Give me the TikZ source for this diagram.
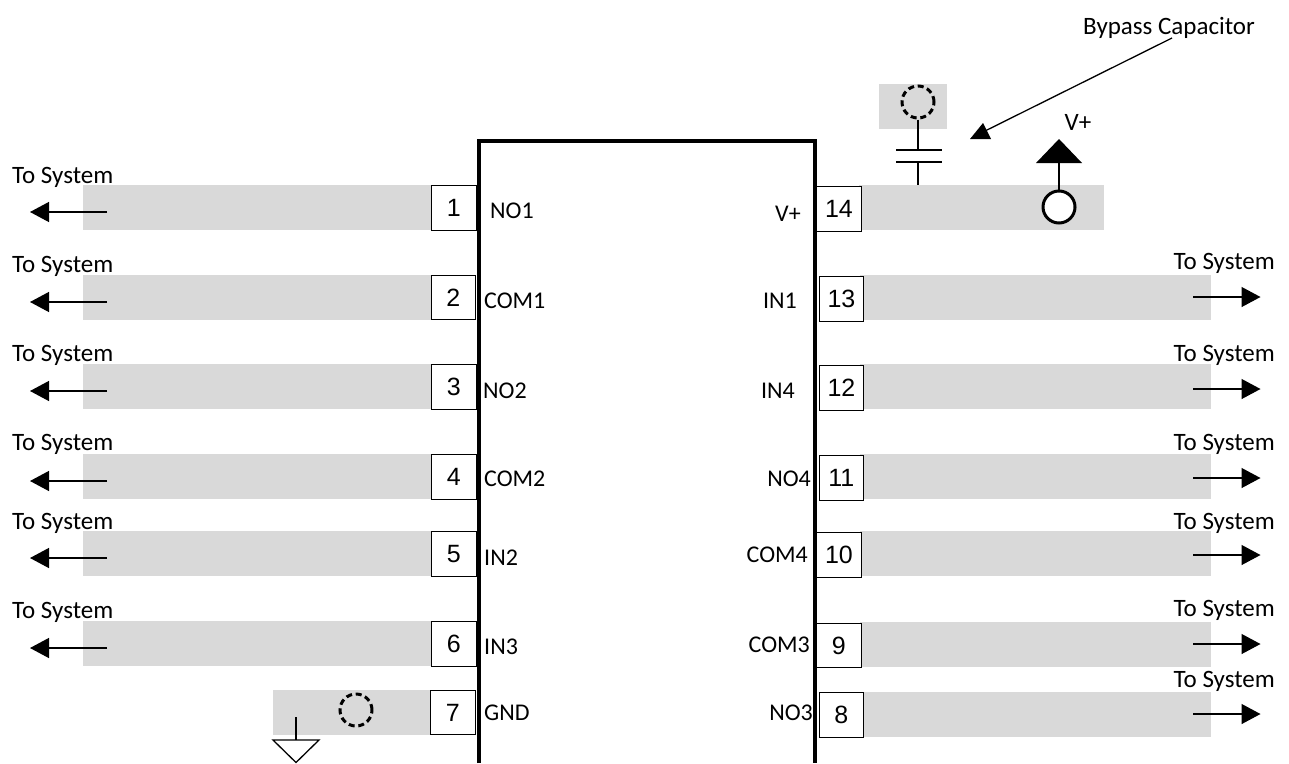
\documentclass[tikz,border=0pt]{standalone}
\usepackage{fontspec}
\setmainfont{Carlito}
\newfontfamily\padfont{Liberation Sans}
\usetikzlibrary{arrows.meta}
\definecolor{bargray}{HTML}{D9D9D9}

\tikzset{
    padbox/.style={draw=black, line width=1.3pt, fill=white, minimum width=44.5pt, minimum height=44.5pt,
        inner sep=0pt, anchor=north west, font=\padfont\fontsize{25}{25}\selectfont},
    pinlabel/.style={inner sep=0pt, font=\fontsize{24}{24}\selectfont},
    syslabel/.style={inner sep=0pt, font=\fontsize{25}{25}\selectfont},
    sysarrow/.style={line width=1.3pt, -{Triangle[length=19pt,width=20pt]}},
    thinwire/.style={line width=1.3pt},
    dashring/.style={circle, draw=black, line width=3pt, dash pattern=on 6pt off 3.7pt, minimum size=32pt, inner sep=0pt},
    solidring/.style={circle, draw=black, line width=3pt, fill=white, minimum size=32pt, inner sep=0pt},
}

\begin{document}
\begin{tikzpicture}[x=1pt, y=-1pt]
\useasboundingbox (0,0) rectangle (1289,763);

% --- LEFT SIDE BARS ---
\foreach \ytop in {185,275,364,454,531,621} {
    \fill[bargray] (83,\ytop) rectangle (432,\ytop+45);
}
\fill[bargray] (273,690) rectangle (431,735);

% --- RIGHT SIDE BARS ---
\fill[bargray] (859,185) rectangle (1104,230);
\foreach \ytop in {275,364,454,531,622,692} {
    \fill[bargray] (860,\ytop) rectangle (1211,\ytop+45);
}
\fill[bargray] (879,84) rectangle (947,129);

% --- PACKAGE OUTLINE ---
\draw[line width=3.5pt] (479,763) -- (479,141) -- (815,141) -- (815,763);

% --- LEFT PINS ---
% number / x / top of pad / label / label x / label y
\foreach \n/\px/\ytop/\pin/\lx/\ly in {
    1/431/185/NO1/490/211,
    2/430.5/274.5/COM1/484/301,
    3/431/364/NO2/483/391,
    4/431/454/COM2/484/479,
    5/431/531/IN2/484/558,
    6/431/621/IN3/484/647,
    7/430/689.5/GND/484/713} {
    \node[padbox] (pad\n) at (\px,\ytop) {\n};
    \node[pinlabel, anchor=west] (pin\n) at (\lx,\ly) {\pin};
}

% --- RIGHT PINS ---
\foreach \n/\px/\ytop/\pin/\lx/\ly in {
    14/816/186/V+/801/214,
    13/818.5/276/IN1/797/301,
    12/818.5/365/IN4/795/391,
    11/818.5/455/NO4/811/479,
    10/816/532/COM4/808/555,
    9/816/622.5/COM3/810/645,
    8/818.5/692/NO3/813/713} {
    \node[padbox] (pad\n) at (\px,\ytop) {\n};
    \node[pinlabel, anchor=east] (pin\n) at (\lx,\ly) {\pin};
}

% --- SIGNALS TO SYSTEM ---
\foreach \n/\ly/\ay in {1/177/212, 2/266/302, 3/355/391, 4/444/481, 5/523/558, 6/612/648} {
    \node[syslabel, anchor=west] (sys\n) at (12,\ly) {To System};
    \coordinate (from\n) at (107,\ay);
    \coordinate (to\n) at (30,\ay);
    \draw[sysarrow] (from\n) -- (to\n);
}
\foreach \n/\ly/\ay in {13/263/297, 12/355/389, 11/444/478, 10/523/555, 9/610/644, 8/681/714} {
    \node[syslabel, anchor=east] (sys\n) at (1275,\ly) {To System};
    \coordinate (from\n) at (1193,\ay);
    \coordinate (to\n) at (1260.5,\ay);
    \draw[sysarrow] (from\n) -- (to\n);
}

% --- BYPASS CAPACITOR ---
\node[dashring] (capvia) at (918,102) {};
\coordinate (plateA) at (918,150);
\coordinate (plateB) at (918,162);
\coordinate (capfoot) at (918,185);
\draw[thinwire] (capvia.south) -- (plateA);
\draw[thinwire] (896,150) -- (942,150);
\draw[thinwire] (896,162) -- (942,162);
\draw[thinwire] (plateB) -- (capfoot);
\node[syslabel, anchor=center] (bypass) at (1169,28) {Bypass Capacitor};
\coordinate (bypassend) at (1172,38);
\coordinate (bypasstip) at (985,131);
\draw[thinwire] (bypassend) -- (bypasstip);
\fill (970,139) -- (983,123) -- (991,139) -- cycle;

% --- SUPPLY ---
\node[solidring] (supply) at (1059,207) {};
\coordinate (supplytop) at (1059,163);
\draw[thinwire] (supply.north) -- (supplytop);
\fill (1036,163) -- (1059,139) -- (1082,163) -- cycle;
\node[syslabel] (vplus) at (1078,122) {V+};

% --- GROUND ---
\node[dashring] (gndvia) at (356,710) {};
\coordinate (gndtop) at (296,717);
\coordinate (gndmid) at (296,740);
\draw[thinwire] (gndtop) -- (gndmid);
\draw[thinwire] (273,740) -- (319,740) -- (296,762.5) -- cycle;

\end{tikzpicture}
\end{document}
